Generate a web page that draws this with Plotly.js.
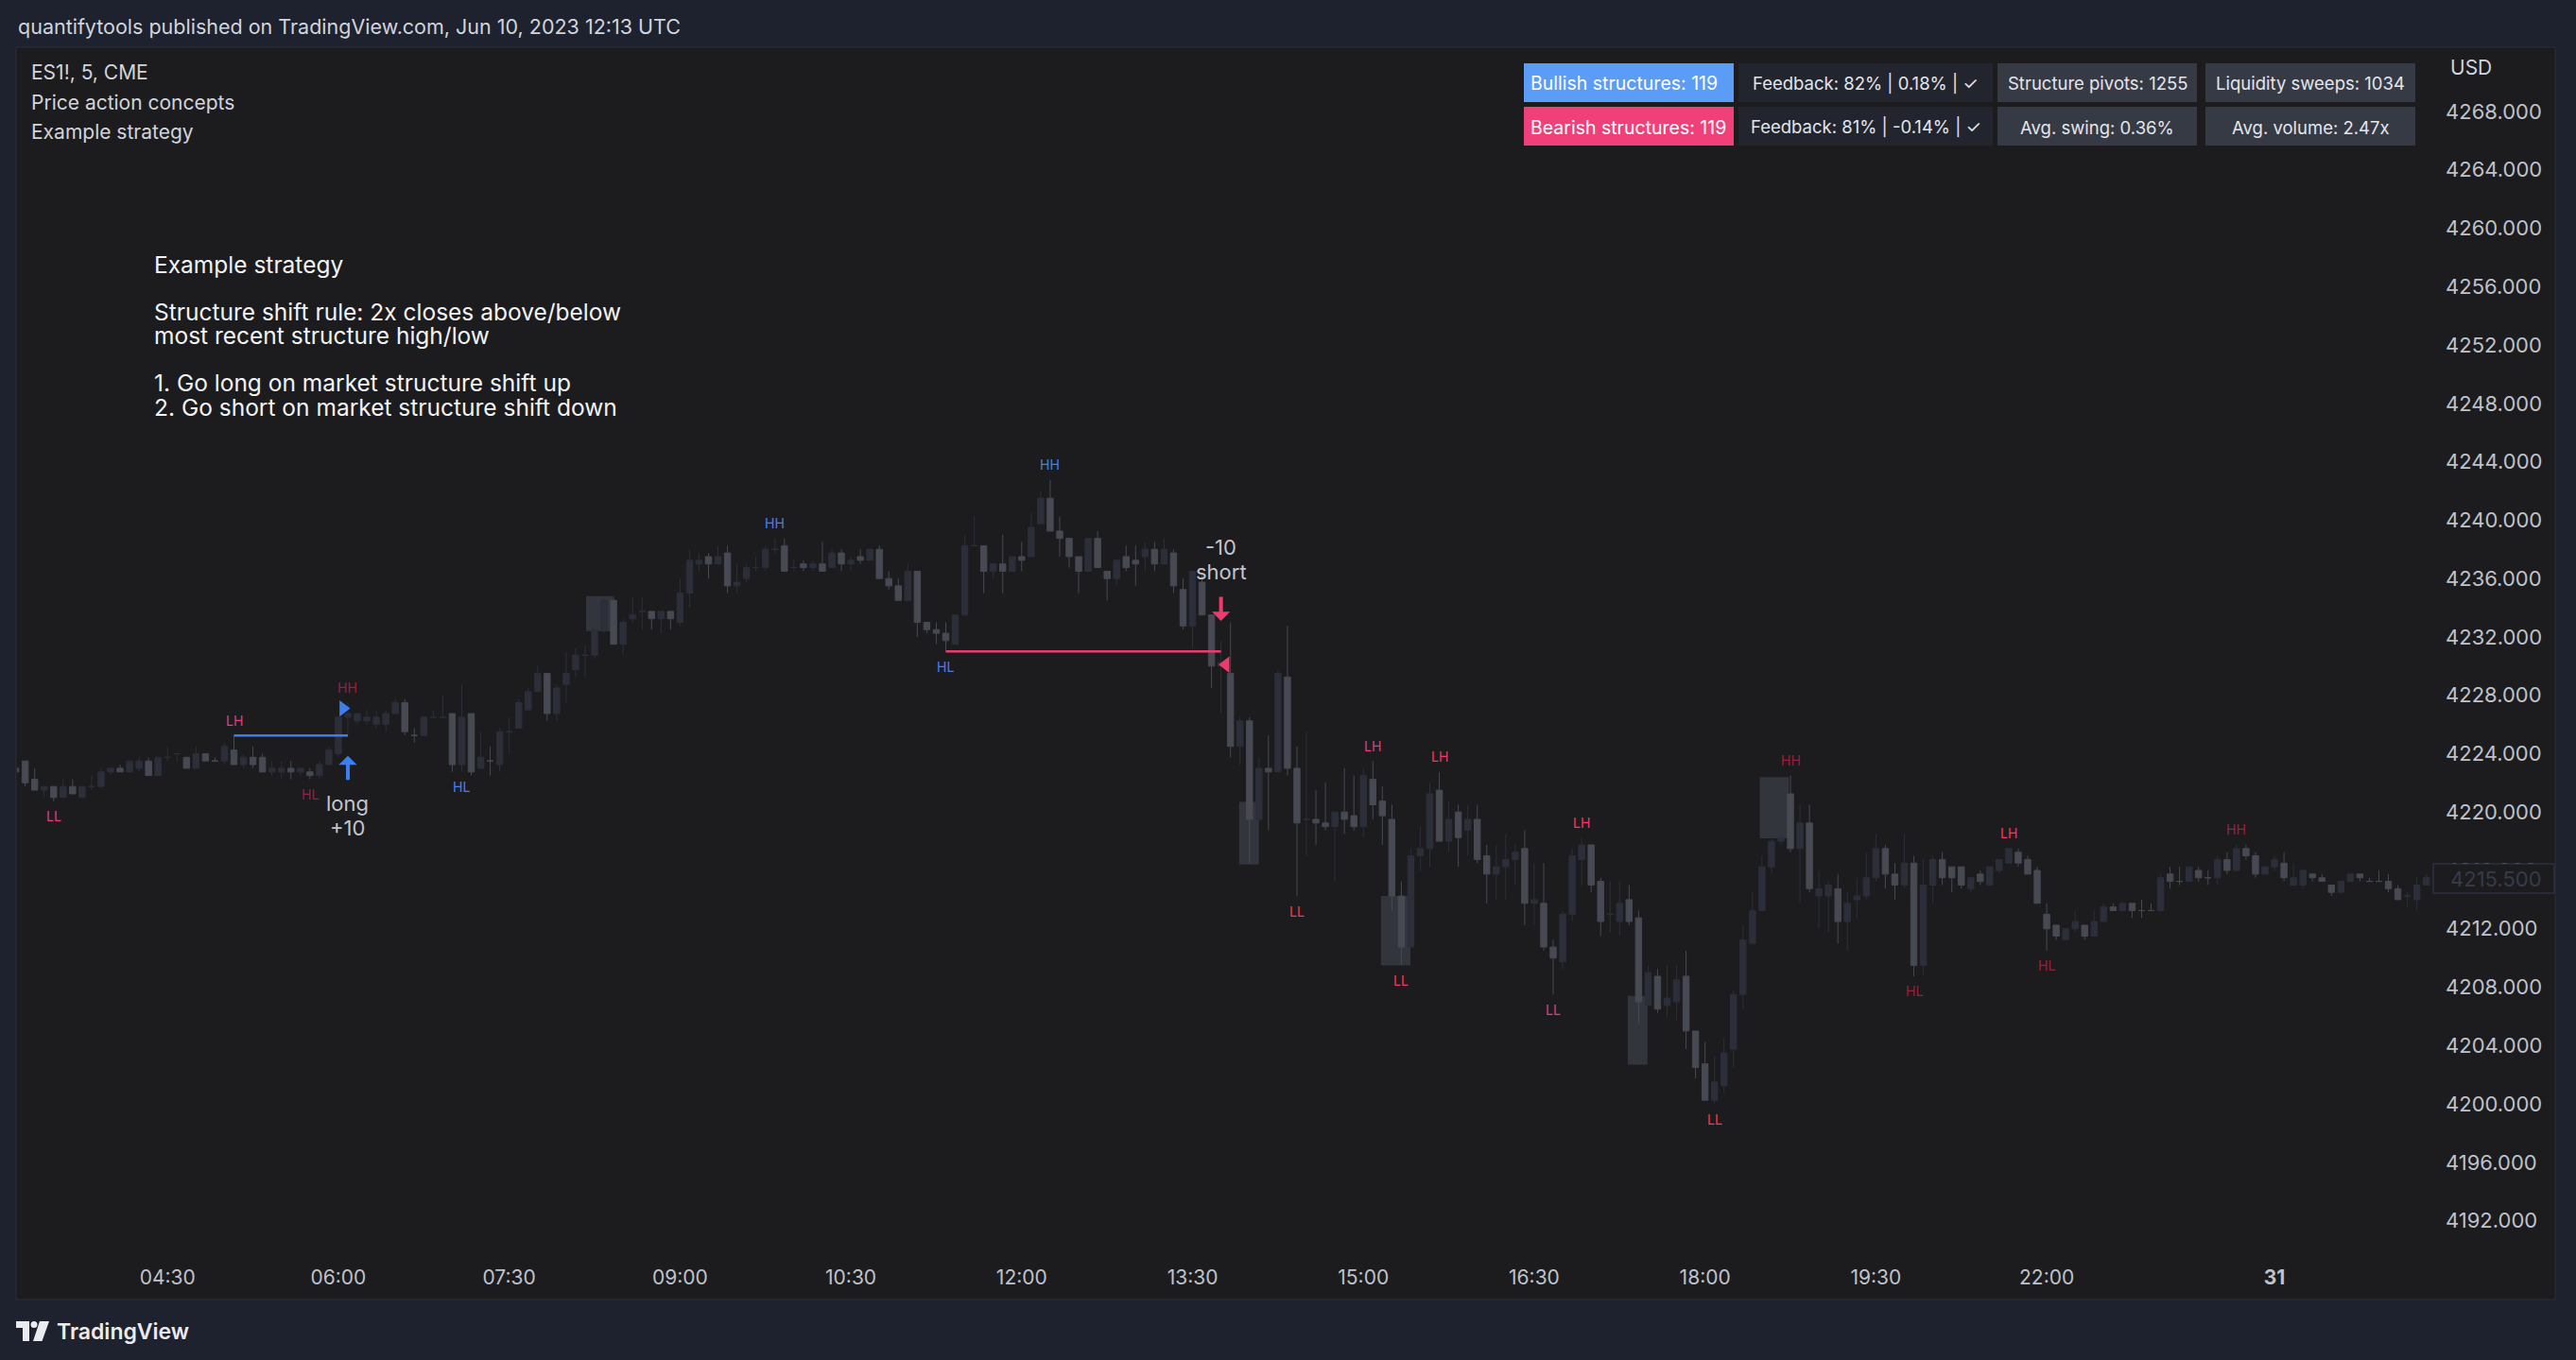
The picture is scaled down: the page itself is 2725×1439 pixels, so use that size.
<!DOCTYPE html>
<html><head><meta charset="utf-8">
<script src="https://cdn.plot.ly/plotly-3.0.1.min.js"></script>
<style>html,body{margin:0;padding:0;background:#1e222e;overflow:hidden}#chart{width:2725px;height:1439px}</style>
</head><body><div id="chart"></div>
<script>
// ================= DATA =================
const sessionStart = ['03:10', '22:00'];          // ES1! 5-minute sessions (UTC), 30 May 2023
const sessionBars = [214, 41];
const open = [
4223.00,4223.50,4222.25,4221.50,4221.75,4221.00,4221.75,4221.00,4221.75,4221.75,
4222.75,4223.00,4222.75,4223.00,4223.50,4222.50,4223.75,4224.00,4223.75,4223.00,
4224.00,4223.50,4223.50,4224.25,4223.25,4223.75,4223.75,4222.75,4222.75,4223.00,
4222.75,4222.75,4222.50,4223.25,4224.00,4226.50,4226.25,4226.25,4226.00,4226.00,
4226.75,4227.50,4225.25,4225.25,4226.50,4226.50,4226.75,4223.25,4226.75,4223.00,
4223.50,4223.25,4225.50,4225.75,4227.00,4228.25,4229.50,4226.75,4228.75,4229.75,
4230.75,4230.75,4232.50,4234.50,4231.50,4233.25,4233.75,4233.75,4233.25,4233.75,
4233.00,4235.00,4237.00,4237.50,4237.00,4237.75,4235.50,4236.00,4236.75,4236.75,
4238.00,4238.25,4236.75,4237.00,4236.75,4237.00,4236.75,4237.75,4237.00,4237.50,
4237.25,4238.00,4236.00,4235.50,4234.50,4236.50,4233.00,4232.50,4232.25,4231.50,
4233.50,4238.25,4238.25,4236.50,4237.00,4236.50,4237.50,4237.50,4239.75,4241.50,
4239.25,4238.75,4237.50,4236.50,4238.75,4236.50,4236.00,4237.50,4237.25,4237.50,
4238.00,4237.00,4237.75,4235.25,4232.75,4235.75,4233.50,4230.00,4229.50,4224.50,
4226.25,4219.50,4223.00,4222.75,4229.25,4223.00,4219.50,4219.50,4219.25,4219.00,
4220.00,4219.75,4219.00,4222.25,4220.75,4219.50,4214.25,4210.75,4217.00,4217.50,
4221.50,4218.00,4220.00,4218.75,4219.50,4217.00,4215.75,4216.25,4216.75,4217.50,
4213.75,4213.75,4210.75,4209.75,4213.00,4216.75,4217.75,4215.25,4213.00,4212.50,
4214.00,4212.75,4206.75,4208.75,4206.75,4207.00,4208.75,4205.00,4202.75,4200.25,
4201.25,4203.75,4207.50,4211.00,4213.25,4216.25,4218.00,4221.25,4217.50,4219.25,
4214.25,4214.25,4214.75,4212.50,4214.00,4214.25,4215.50,4217.50,4215.75,4215.00,
4216.50,4209.50,4215.00,4216.75,4216.25,4216.25,4214.75,4215.75,4215.00,4216.00,
4216.50,4217.25,4216.75,4216.00,4213.00,4212.25,4211.25,4212.00,4212.25,4211.50,
4212.50,4213.50,4213.25,4213.75,4213.25,4213.25,4213.25,4215.75,4215.25,4215.25,
4216.00,4215.50,4215.50,4216.75,4216.00,4217.50,4217.00,4215.75,4216.25,4216.50,
4215.00,4215.00,4215.75,4215.50,4215.00,4214.50,4215.25,4215.75,4215.25,4215.25,
4215.25,4214.75,4214.25,4214.00,4215.00];
const high = [
4223.25,4223.50,4223.00,4221.75,4221.75,4222.25,4222.25,4221.75,4222.50,4223.00,
4223.00,4223.25,4223.50,4223.75,4223.75,4223.75,4224.50,4224.00,4223.75,4224.50,
4224.00,4223.75,4224.75,4225.25,4224.00,4224.50,4224.00,4223.50,4223.50,4223.50,
4223.00,4223.00,4223.50,4224.50,4226.50,4227.50,4226.75,4227.00,4227.00,4227.00,
4227.75,4227.75,4225.75,4226.50,4227.00,4228.00,4226.75,4228.75,4226.75,4225.50,
4224.50,4225.75,4226.50,4227.75,4228.50,4230.00,4229.50,4228.75,4231.00,4231.25,
4231.50,4232.75,4234.75,4234.75,4233.25,4234.75,4234.75,4233.75,4233.75,4233.75,
4236.00,4238.00,4237.75,4237.75,4238.25,4238.25,4237.00,4237.00,4237.50,4238.25,
4238.75,4238.75,4237.25,4237.25,4237.25,4238.50,4238.00,4238.00,4237.50,4238.00,
4238.00,4238.25,4236.50,4236.00,4237.00,4236.50,4233.00,4233.00,4233.00,4233.50,
4239.00,4240.25,4238.25,4237.00,4239.00,4237.50,4238.50,4240.50,4242.00,4242.75,
4240.25,4238.75,4237.50,4238.75,4239.25,4236.50,4237.25,4238.25,4238.25,4238.50,
4238.50,4238.75,4238.00,4236.00,4236.50,4236.25,4233.50,4231.75,4233.00,4226.50,
4226.50,4223.75,4225.25,4229.75,4232.75,4224.50,4225.50,4221.50,4222.00,4220.00,
4223.00,4222.50,4223.00,4223.50,4221.75,4220.50,4215.25,4217.50,4219.00,4222.00,
4222.75,4220.75,4220.50,4220.50,4220.50,4217.75,4217.75,4218.50,4217.75,4218.75,
4216.50,4216.50,4211.25,4213.25,4217.50,4218.25,4217.75,4215.50,4215.25,4215.25,
4215.00,4213.25,4209.50,4209.25,4209.50,4209.50,4210.50,4205.00,4204.25,4203.25,
4204.50,4207.75,4212.25,4214.50,4217.00,4218.25,4218.50,4222.50,4220.50,4220.50,
4216.00,4215.25,4215.75,4214.50,4215.50,4217.25,4218.50,4217.75,4216.50,4218.50,
4217.00,4216.75,4217.00,4217.25,4216.25,4216.25,4215.50,4216.00,4216.25,4216.75,
4217.50,4217.50,4217.00,4216.25,4213.75,4212.25,4212.00,4213.25,4212.25,4213.25,
4213.75,4213.75,4213.75,4213.75,4214.00,4213.75,4215.75,4216.25,4216.25,4216.25,
4216.25,4216.00,4217.00,4217.25,4217.75,4217.75,4217.25,4216.25,4217.00,4217.25,
4216.50,4216.00,4215.75,4215.75,4215.00,4215.25,4215.75,4215.75,4215.50,4216.00,
4215.75,4215.00,4214.50,4215.50,4215.75];
const low = [
4222.75,4221.75,4221.50,4221.00,4220.75,4221.00,4221.25,4221.00,4221.50,4221.75,
4222.50,4222.75,4222.75,4222.75,4222.50,4222.50,4223.50,4223.50,4223.00,4223.00,
4223.50,4223.50,4223.25,4223.25,4223.00,4223.00,4222.75,4222.50,4222.25,4222.25,
4222.50,4222.25,4222.25,4223.25,4223.75,4225.25,4226.00,4226.00,4225.75,4225.50,
4226.75,4225.25,4224.75,4225.25,4226.50,4226.50,4222.75,4222.75,4222.50,4223.00,
4222.50,4222.75,4224.00,4225.75,4227.00,4228.25,4226.25,4226.25,4227.50,4229.25,
4229.25,4230.50,4232.25,4231.50,4230.75,4233.00,4232.50,4232.50,4232.25,4232.50,
4232.75,4234.00,4236.50,4236.00,4237.00,4235.00,4235.00,4235.75,4236.50,4236.50,
4237.75,4236.50,4236.50,4236.50,4236.50,4236.50,4236.75,4236.50,4236.50,4237.00,
4237.25,4236.00,4235.25,4234.50,4234.50,4232.00,4232.25,4231.50,4231.00,4231.50,
4233.50,4238.25,4235.00,4236.00,4235.00,4236.50,4236.50,4237.50,4239.75,4239.25,
4237.50,4236.75,4235.00,4236.50,4236.75,4234.50,4235.50,4236.50,4235.50,4236.50,
4236.50,4237.00,4235.00,4232.50,4231.25,4233.50,4228.50,4226.75,4223.75,4223.25,
4216.50,4219.50,4218.75,4222.75,4222.50,4214.25,4217.00,4217.75,4218.75,4215.25,
4218.50,4218.75,4218.25,4219.50,4217.75,4213.25,4209.50,4210.75,4216.00,4216.25,
4218.00,4217.25,4216.25,4217.00,4216.50,4213.75,4214.00,4214.00,4215.00,4212.25,
4212.25,4210.50,4207.50,4209.25,4212.50,4215.00,4214.50,4211.50,4211.75,4211.50,
4212.25,4205.50,4206.75,4206.25,4206.00,4205.75,4203.75,4201.75,4200.25,4200.00,
4200.75,4202.50,4206.50,4211.00,4213.25,4215.75,4217.75,4217.25,4213.75,4214.50,
4212.00,4211.75,4211.00,4210.50,4212.75,4214.00,4215.25,4214.75,4214.00,4214.75,
4208.75,4208.75,4213.75,4215.00,4214.50,4214.75,4214.50,4215.00,4215.00,4215.75,
4216.50,4216.25,4215.75,4213.75,4210.50,4211.25,4211.25,4211.75,4211.25,4211.50,
4212.50,4213.25,4213.25,4212.75,4212.75,4213.25,4213.25,4214.75,4215.00,4215.25,
4215.25,4215.00,4215.00,4215.75,4216.00,4216.75,4215.50,4215.75,4216.00,4215.25,
4215.00,4214.75,4215.25,4215.25,4214.25,4214.50,4215.25,4215.25,4215.25,4215.25,
4214.50,4214.00,4213.50,4213.25,4215.00];
const close = [
4222.75,4222.00,4221.50,4221.75,4221.00,4221.75,4221.25,4221.75,4221.75,4222.75,
4223.00,4222.75,4223.50,4223.50,4222.50,4223.75,4223.75,4224.00,4223.00,4224.00,
4223.50,4223.50,4224.50,4223.25,4223.75,4223.25,4222.75,4223.00,4223.00,4222.75,
4223.00,4222.50,4223.25,4224.25,4226.50,4226.75,4226.75,4226.50,4226.50,4226.75,
4227.50,4225.50,4225.25,4226.50,4226.50,4226.50,4223.25,4226.50,4222.75,4223.75,
4223.50,4225.50,4225.50,4227.50,4228.25,4229.50,4226.75,4228.50,4229.50,4230.75,
4230.75,4232.50,4234.50,4231.50,4233.00,4233.50,4233.75,4233.25,4233.75,4233.25,
4235.00,4237.25,4237.25,4237.00,4237.50,4235.50,4235.75,4236.75,4236.75,4238.00,
4238.00,4236.50,4236.75,4236.75,4237.00,4236.50,4237.75,4237.00,4237.25,4237.25,
4238.00,4236.00,4235.50,4234.50,4236.50,4233.00,4232.50,4232.25,4231.75,4233.50,
4238.25,4238.25,4236.50,4237.00,4236.50,4237.50,4237.25,4239.50,4241.50,4239.25,
4238.75,4237.50,4236.50,4238.75,4236.75,4236.00,4237.25,4236.75,4237.00,4238.00,
4237.00,4238.00,4235.50,4232.75,4236.50,4233.50,4230.00,4230.25,4224.50,4226.25,
4219.50,4223.00,4222.75,4229.50,4223.00,4219.25,4219.50,4219.25,4219.00,4220.00,
4219.50,4219.00,4222.50,4220.50,4219.75,4214.25,4210.75,4217.00,4217.50,4221.25,
4218.00,4219.50,4218.25,4219.50,4216.75,4215.75,4216.25,4216.75,4217.25,4213.75,
4214.00,4210.75,4210.00,4213.00,4217.00,4217.75,4215.00,4212.50,4213.00,4213.75,
4212.50,4207.00,4209.00,4206.50,4207.25,4208.50,4205.00,4202.50,4200.25,4201.50,
4203.50,4207.50,4211.25,4213.25,4216.25,4218.00,4218.25,4217.50,4219.25,4214.75,
4214.75,4215.00,4212.50,4213.75,4214.25,4215.50,4217.50,4215.75,4215.00,4216.50,
4209.50,4215.00,4216.75,4215.50,4215.50,4215.00,4215.50,4215.25,4216.25,4216.75,
4217.50,4216.50,4215.75,4213.75,4212.00,4211.50,4212.00,4212.50,4211.50,4212.50,
4213.50,4213.25,4213.75,4213.25,4213.25,4213.25,4215.50,4215.25,4215.25,4216.25,
4215.50,4215.50,4216.75,4216.00,4217.50,4217.00,4215.75,4216.25,4216.75,4215.50,
4215.50,4216.00,4215.50,4215.25,4214.50,4215.25,4215.75,4215.50,4215.25,4215.25,
4214.75,4214.00,4214.25,4215.00,4215.50];

const timeTickVals = ['2023-05-30 04:30','2023-05-30 06:00','2023-05-30 07:30','2023-05-30 09:00',
  '2023-05-30 10:30','2023-05-30 12:00','2023-05-30 13:30','2023-05-30 15:00','2023-05-30 16:30',
  '2023-05-30 18:00','2023-05-30 19:30','2023-05-30 22:00','2023-05-31 00:00'];
const timeTickText = ['04:30','06:00','07:30','09:00','10:30','12:00','13:30','15:00','16:30',
  '18:00','19:30','22:00','<b>31</b>'];
const priceTicks = [4192,4196,4200,4204,4208,4212,4216,4220,4224,4228,4232,4236,4240,4244,4248,4252,4256,4260,4264,4268];

// market-structure pivot labels (bar index, label, tone)
const structBars = [4, 23, 31, 35, 47, 80, 98, 109, 135, 143, 146, 150, 162, 165, 179, 187, 200, 210, 214, 234];
const structText = ['LL','LH','HL','HH','HL','HH','HL','HH','LL','LH','LL','LH','LL','LH','LL','HH','HL','LH','HL','HH'];
const structTone = ['bear','bear','weak','weak','bull','bull','bull','bull','bear','bear','bear','bear','bear','bear','bear','weak','weak','bear','weak','weak'];

// broken structure levels
const levelFromBar = [23, 98];
const levelToBar = [35, 127];
const levelPrice = [4225.25, 4231.0];
const levelTone = ['bull', 'bear'];

// structure-shift markers (bar index, price)
const shiftBar = [34.5, 127.5];
const shiftPrice = [4227.1, 4230.1];
const shiftTone = ['bull', 'bear'];

// strategy entries
const entryBar = [35, 127];
const entrySide = ['long', 'short'];
const entryQty = ['+10', '-10'];
const entryPrice = [4223.85, 4233.1];

// shaded zones (bar range, price range)
const zoneFrom = [60.1, 128.9, 143.85, 169.85, 183.77];
const zoneTo = [62.9, 131.0, 146.96, 171.94, 186.83];
const zoneTop = [4234.8, 4220.7, 4214.25, 4207.4, 4222.4];
const zoneBottom = [4232.4, 4216.4, 4209.5, 4202.7, 4218.2];

// statistics table
const tableText = [
  ['Bullish structures: 119', 'Feedback: 82% | 0.18% | ✓', 'Structure pivots: 1255', 'Liquidity sweeps: 1034'],
  ['Bearish structures: 119', 'Feedback: 81% | -0.14% | ✓', 'Avg. swing: 0.36%', 'Avg. volume: 2.47x']
];
const headerText = 'quantifytools published on TradingView.com, Jun 10, 2023 12:13 UTC';
const legendLines = ['ES1!, 5, CME', 'Price action concepts', 'Example strategy'];
const noteLines = ['Example strategy', 'Structure shift rule: 2x closes above/below',
  'most recent structure high/low', '1. Go long on market structure shift up', '2. Go short on market structure shift down'];
const currency = 'USD';

// ================= LAYOUT HELPERS =================
const W = 2725, H = 1439;
const M = {l: 18, r: 153, t: 50, b: 114};
const PW = W - M.l - M.r, PH = H - M.t - M.b;
const px = x => (x - M.l) / PW;
const py = y => 1 - (y - M.t) / PH;
const FONT = 'Inter, "Noto Sans", Roboto, sans-serif';
const TONE = {bull: '#4a80e6', bear: '#ea3a6f', weak: '#9b1f3e'};
const LINE = {bull: '#3b7ff0', bear: '#ef3a6e'};

const pad = n => String(n).padStart(2, '0');
const startMin = sessionStart.map(s => { const [h, m] = s.split(':').map(Number); return h * 60 + m; });
function barMinutes(i) {
  if (i < sessionBars[0]) return startMin[0] + i * 5;
  return startMin[1] + (i - sessionBars[0]) * 5;
}
function fmt(min) {
  const sec = Math.round(min * 60);
  const day = 30 + Math.floor(sec / 86400);
  const r = sec % 86400;
  return `2023-05-${day} ${pad(Math.floor(r / 3600))}:${pad(Math.floor((r % 3600) / 60))}:${pad(r % 60)}`;
}
const barX = i => fmt(barMinutes(i));
const times = open.map((_, i) => barX(i));

// ================= TRACES =================
const candles = {
  type: 'candlestick', x: times, open, high, low, close,
  increasing: {line: {color: '#2c2f3a', width: 1}, fillcolor: '#2c2f3a'},
  decreasing: {line: {color: '#474953', width: 1}, fillcolor: '#474953'},
  whiskerwidth: 0, hoverinfo: 'skip', showlegend: false
};
const shiftMarks = {
  type: 'scatter', mode: 'markers', x: shiftBar.map(barX), y: shiftPrice,
  marker: {symbol: shiftTone.map(t => t === 'bull' ? 'triangle-right' : 'triangle-left'),
           color: shiftTone.map(t => LINE[t]), size: 15, line: {width: 0}},
  hoverinfo: 'skip', showlegend: false
};

// ================= SHAPES =================
const shapes = [];
shapes.push({type: 'rect', xref: 'paper', yref: 'paper', x0: px(17), x1: px(2703), y0: py(50), y1: py(1375),
  fillcolor: '#1c1c1f', line: {color: '#2a2e39', width: 1}, layer: 'below'});
zoneFrom.forEach((f, k) => shapes.push({type: 'rect', xref: 'x', yref: 'y', x0: barX(f), x1: barX(zoneTo[k]),
  y0: zoneBottom[k], y1: zoneTop[k], fillcolor: 'rgba(74,78,92,0.5)', line: {width: 0}, layer: 'below'}));
levelFromBar.forEach((f, k) => shapes.push({type: 'line', xref: 'x', yref: 'y', x0: barX(f), x1: barX(levelToBar[k]),
  y0: levelPrice[k], y1: levelPrice[k], line: {color: LINE[levelTone[k]], width: 2.5}}));

// table
const colX = [[1612, 1834], [1839, 2108], [2113, 2324], [2333, 2555]];
const rowY = [[67, 108], [113, 154]];
const annotations = [];
tableText.forEach((row, r) => row.forEach((txt, c) => {
  let fill = c === 0 ? (r === 0 ? '#5b9cf6' : '#ef407a') : (c === 1 ? '#22252e' : '#363a45');
  shapes.push({type: 'rect', xref: 'paper', yref: 'paper', x0: px(colX[c][0]), x1: px(colX[c][1]),
    y0: py(rowY[r][1]), y1: py(rowY[r][0]), fillcolor: fill, line: {width: 0}});
  annotations.push({xref: 'paper', yref: 'paper', showarrow: false,
    x: c === 0 ? px(colX[c][0] + 5) : px((colX[c][0] + colX[c][1]) / 2),
    xanchor: c === 0 ? 'left' : 'center', y: py((rowY[r][0] + rowY[r][1]) / 2 + 1), yanchor: 'middle',
    text: txt, font: {family: FONT, size: c === 0 ? 19.5 : 18.5, color: c === 0 ? '#ffffff' : '#e3e5eb'}});
}));

// last price tag
shapes.push({type: 'rect', xref: 'paper', yref: 'paper', x0: px(2574), x1: px(2702), y0: py(945), y1: py(914),
  fillcolor: '#1c1c1f', line: {color: '#2c3140', width: 1.5}});
annotations.push({xref: 'paper', yref: 'paper', x: px(2640), y: py(930), xanchor: 'center', yanchor: 'middle',
  showarrow: false, text: close[close.length - 1].toFixed(3), font: {family: FONT, size: 22, color: '#363b48'}});

// TradingView logo
const pPath = pts => 'M ' + pts.map(p => `${px(p[0])},${py(p[1])}`).join(' L ') + ' Z';
shapes.push({type: 'path', xref: 'paper', yref: 'paper', path: pPath([[17,1398],[31,1398],[31,1419],[24,1419],[24,1405],[17,1405]]),
  fillcolor: '#e9ebf0', line: {width: 0}});
shapes.push({type: 'circle', xref: 'paper', yref: 'paper', x0: px(32.5), x1: px(39.5), y0: py(1405), y1: py(1398),
  fillcolor: '#e9ebf0', line: {width: 0}});
shapes.push({type: 'path', xref: 'paper', yref: 'paper', path: pPath([[42,1398],[52,1398],[44.5,1419],[35,1419]]),
  fillcolor: '#e9ebf0', line: {width: 0}});
annotations.push({xref: 'paper', yref: 'paper', x: px(58), y: py(1409), xanchor: 'left', yanchor: 'middle', showarrow: false,
  text: 'TradingView', font: {family: FONT, size: 23, weight: 600, color: '#e9ebf0'}});

// header / legend / note texts
annotations.push({xref: 'paper', yref: 'paper', x: px(17), y: py(28), xanchor: 'left', yanchor: 'middle', showarrow: false,
  text: headerText, font: {family: FONT, size: 21.5, color: '#d1d4dc'}});
const legendY = [76, 108, 139];
legendLines.forEach((t, k) => annotations.push({xref: 'paper', yref: 'paper', x: px(31), y: py(legendY[k]),
  xanchor: 'left', yanchor: 'middle', showarrow: false, text: t, font: {family: FONT, size: 21, color: '#d1d4dc'}}));
const noteY = [280, 330, 355, 405, 431];
noteLines.forEach((t, k) => annotations.push({xref: 'paper', yref: 'paper', x: px(161), y: py(noteY[k]),
  xanchor: 'left', yanchor: 'middle', showarrow: false, text: t, font: {family: FONT, size: 24.5, color: '#f2f3f5'}}));
annotations.push({xref: 'paper', yref: 'paper', x: px(2614), y: py(71), xanchor: 'center', yanchor: 'middle',
  showarrow: false, text: currency, font: {family: FONT, size: 21, color: '#d1d4dc'}});

// structure labels
structBars.forEach((b, k) => {
  const isHigh = structText[k][1] === 'H';
  annotations.push({xref: 'x', yref: 'y', x: barX(b), y: isHigh ? high[b] : low[b], yshift: isHigh ? 16 : -16,
    showarrow: false, xanchor: 'center', yanchor: 'middle', text: structText[k],
    font: {family: FONT, size: 14, color: TONE[structTone[k]]}});
});

// entries: arrow, then side label next to it, quantity further away
entryBar.forEach((b, k) => {
  const up = entrySide[k] === 'long';
  const col = up ? LINE.bull : LINE.bear;
  annotations.push({xref: 'x', yref: 'y', x: barX(b), y: entryPrice[k], ax: 0, ay: up ? 27 : -27,
    text: '', showarrow: true, arrowhead: 1, arrowsize: 0.8, arrowwidth: 4, arrowcolor: col, standoff: 0});
  annotations.push({xref: 'x', yref: 'y', x: barX(b), y: entryPrice[k], yshift: up ? -50 : 52, showarrow: false,
    xanchor: 'center', yanchor: 'middle', text: entrySide[k], font: {family: FONT, size: 22, color: '#c2c5cd'}});
  annotations.push({xref: 'x', yref: 'y', x: barX(b), y: entryPrice[k], yshift: up ? -76 : 78, showarrow: false,
    xanchor: 'center', yanchor: 'middle', text: entryQty[k], font: {family: FONT, size: 22, color: '#c2c5cd'}});
});

// ================= LAYOUT =================
const layout = {
  width: W, height: H, margin: M,
  paper_bgcolor: '#1e222e', plot_bgcolor: '#1c1c1f',
  font: {family: FONT, color: '#b8bbc4'},
  showlegend: false, hovermode: false, boxgap: 0.36, boxgroupgap: 0,
  xaxis: {
    type: 'date', range: [fmt(barMinutes(0.14)), fmt(barMinutes(254.53))],
    rangebreaks: [{bounds: [21, 22], pattern: 'hour'}],
    rangeslider: {visible: false},
    tickmode: 'array', tickvals: timeTickVals, ticktext: timeTickText,
    tickfont: {family: FONT, size: 21, color: '#bfc2ca'}, ticks: '', ticklabelstandoff: 12,
    showgrid: false, zeroline: false, showline: false, fixedrange: true
  },
  yaxis: {
    side: 'right', range: [4189.84, 4272.40],
    tickmode: 'array', tickvals: priceTicks, ticktext: priceTicks.map(v => v.toFixed(3)),
    tickfont: {family: FONT, size: 22, color: '#bfc2ca'}, ticks: '', ticklabelstandoff: 14,
    showgrid: false, zeroline: false, showline: false, fixedrange: true
  },
  shapes, annotations
};

Plotly.newPlot('chart', [candles, shiftMarks], layout, {staticPlot: true, displayModeBar: false});
</script>
</body></html>
